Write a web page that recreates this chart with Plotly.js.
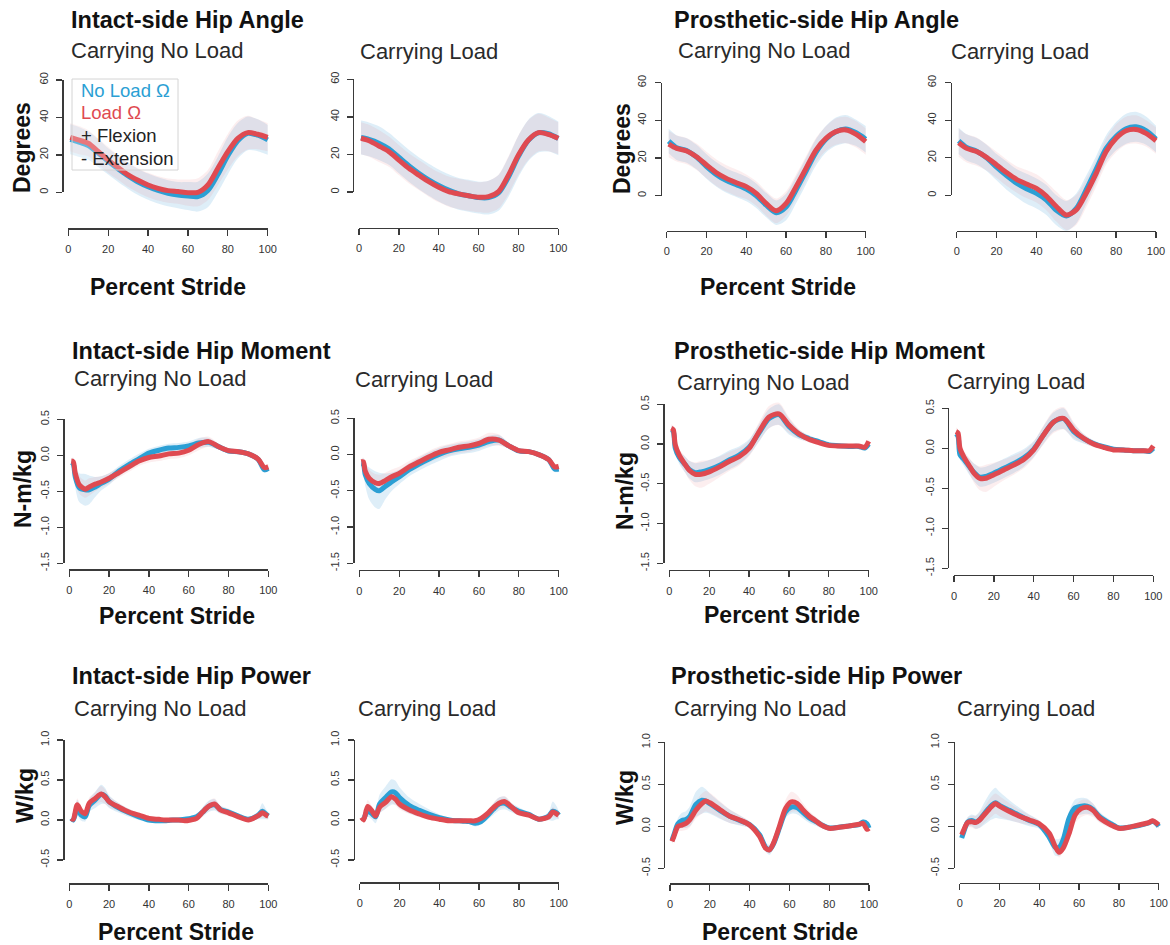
<!DOCTYPE html>
<html><head><meta charset="utf-8">
<script src="https://cdn.plot.ly/plotly-3.0.1.min.js"></script>
<style>html,body{margin:0;padding:0;background:#fff}#chart{width:1170px;height:945px}</style>
</head><body><div id="chart"></div>
<script>
// ---------- DATA ----------
const xAngle = [1,5,10,15,20,25,30,35,40,45,50,55,60,65,70,75,80,85,90,95,100];
const xMoment = [1,2,3,5,8,10,13,16,20,25,30,35,40,45,50,55,60,65,70,75,80,85,90,95,98,100];
const xPower = [1,2,4,6,8,10,13,16,18,20,25,30,35,40,45,48,50,52,55,58,61,64,67,70,73,76,80,85,90,95,97,99,100];

const angleTicks = [0,20,40,60];
const angleTickText = ['0','20','40','60'];
const momentTicks = [-1.5,-1,-0.5,0,0.5];
const momentTickText = ['-1.5','-1.0','-0.5','0.0','0.5'];
const powerTicks = [-0.5,0,0.5,1];
const powerTickText = ['-0.5','0.0','0.5','1.0'];
const strideTicks = [0,20,40,60,80,100];

const rowTitles = ['Intact-side Hip Angle','Prosthetic-side Hip Angle','Intact-side Hip Moment','Prosthetic-side Hip Moment','Intact-side Hip Power','Prosthetic-side Hip Power'];
const subTitles = ['Carrying No Load','Carrying Load','Carrying No Load','Carrying Load'];
const yTitles = ['Degrees','N-m/kg','W/kg'];
const xTitle = 'Percent Stride';
const legendLabels = ['No Load \u03A9','Load \u03A9','+ Flexion','- Extension'];

// Intact angle, no load
const angIntNoBlue = [28.3,27,25,21,16.5,12.5,8.8,5.5,3,1,-0.5,-1.5,-2,-2.3,1,9.5,19.5,27.5,31.5,30.5,28];
const angIntNoBlueSd = [8,8,7.5,7.5,7,7,7,7,7,7,7,7,7.5,8,9,9.5,10,9.5,9,8.5,8];
const angIntNoRed = [29.4,28,26.2,21.8,17.3,13.2,9.3,6.4,3.9,2.1,0.9,0.4,-0.2,0,3.9,12.8,21.7,28.8,31.9,31,29.4];
const angIntNoRedSd = [7.5,7.5,7,7,7,6.5,6.5,6.5,6.5,6.5,6.5,6.5,7,7.5,8,9,9.5,9.5,9,8,7.5];
// Intact angle, load
const angIntLdBlue = [29,28,26,23,18.5,14,10,6.5,3.5,1,-1,-2,-3,-3,-0.5,8,19,27.5,31.5,31,28.5];
const angIntLdBlueSd = [9,9,9,8.5,8.5,8.5,8.5,8.5,8.5,8.5,8.5,8.5,8.5,9,9.5,10.5,11,11,10.5,9.5,9];
const angIntLdRed = [28.6,27.3,24.5,21.5,17,12.6,9,5.5,2.5,0.2,-1,-2,-2.8,-2.5,0.2,9,19.7,27.7,31.6,30.7,28.6];
const angIntLdRedSd = [8.5,8.5,8.5,8,8,8,8,8,8,8,8,8,8,8.5,9,10,10.5,10.5,10,9,8.5];
// Prosthetic angle, no load
const angProNoBlue = [29,25.5,24,20.5,15.5,11.2,8,5.8,3.5,0,-5,-9,-6,3,13,23,30,34,35.4,33.5,30];
const angProNoBlueSd = [6.5,6.5,6.5,6.5,6.5,6.5,6.5,6.5,6.5,6.5,6.5,6.5,7,7,7,7,7,7.5,7.5,7,7];
const angProNoRed = [27.4,25.1,23.7,20.7,16.3,12.2,9.2,6.9,4.8,1.2,-4.1,-8,-4.1,4.8,14.5,24.2,30.4,34,34.9,32.7,28.7];
const angProNoRedSd = [7,7,7,7,7,7,7,7,6.5,6.5,6.5,6.5,6.5,6.5,6.5,6.5,6.5,7,7,7,7];
// Prosthetic angle, load
const angProLdBlue = [29,25.5,23.5,20,15,10.5,6.5,3.5,1,-2.5,-8,-11,-7,3,14,25,31.5,35.5,36.5,34.5,30];
const angProLdBlueSd = [7,7,7,7,7,7.5,7.5,8,8,8,8,8,8,7.5,7,7,7.5,8,8,7.5,7];
const angProLdRed = [28,25,23.3,20.2,16.2,12.1,8.5,6,3.7,-0.4,-6,-10.5,-7.8,1.1,11.7,23.3,30.4,34.4,35.1,33,29.1];
const angProLdRedSd = [7.5,7.5,7.5,7,7,7,7,7.5,7.5,7.5,8,8,8,7.5,7,7,7.5,7.5,7.5,7,7];

// Intact moment, no load
const momIntNoBlue = [-0.1,-0.12,-0.3,-0.45,-0.48,-0.48,-0.44,-0.39,-0.33,-0.22,-0.13,-0.05,0.03,0.07,0.1,0.11,0.13,0.17,0.18,0.12,0.06,0.05,0.02,-0.06,-0.2,-0.18];
const momIntNoBlueSd = [0.04,0.08,0.15,0.2,0.22,0.2,0.14,0.1,0.08,0.07,0.07,0.07,0.06,0.06,0.06,0.06,0.06,0.07,0.06,0.04,0.03,0.03,0.03,0.03,0.04,0.04];
const momIntNoRed = [-0.08,-0.09,-0.25,-0.41,-0.47,-0.44,-0.40,-0.37,-0.32,-0.24,-0.16,-0.08,-0.03,-0.01,0.02,0.03,0.07,0.15,0.19,0.12,0.065,0.05,0.02,-0.055,-0.17,-0.16];
const momIntNoRedSd = [0.04,0.06,0.1,0.12,0.12,0.12,0.1,0.08,0.07,0.07,0.07,0.07,0.07,0.07,0.07,0.07,0.07,0.08,0.07,0.04,0.03,0.03,0.03,0.03,0.04,0.04];
// Intact moment, load
const momIntLdBlue = [-0.12,-0.13,-0.28,-0.4,-0.48,-0.5,-0.44,-0.38,-0.31,-0.21,-0.13,-0.06,0,0.05,0.08,0.1,0.13,0.18,0.2,0.12,0.05,0.04,0,-0.07,-0.2,-0.2];
const momIntLdBlueSd = [0.04,0.08,0.15,0.22,0.25,0.25,0.18,0.13,0.1,0.09,0.09,0.09,0.09,0.08,0.08,0.08,0.08,0.08,0.07,0.04,0.03,0.03,0.03,0.03,0.04,0.04];
const momIntLdRed = [-0.1,-0.1,-0.23,-0.33,-0.39,-0.40,-0.36,-0.31,-0.26,-0.17,-0.1,-0.03,0.03,0.065,0.1,0.12,0.155,0.21,0.2,0.12,0.055,0.04,0,-0.07,-0.17,-0.165];
const momIntLdRedSd = [0.04,0.06,0.1,0.12,0.12,0.12,0.11,0.1,0.09,0.08,0.08,0.08,0.08,0.08,0.08,0.08,0.08,0.09,0.08,0.04,0.03,0.03,0.03,0.03,0.04,0.04];
// Prosthetic moment, no load
const momProNoBlue = [0.18,0.16,-0.05,-0.17,-0.26,-0.32,-0.36,-0.35,-0.32,-0.27,-0.2,-0.14,-0.04,0.14,0.32,0.37,0.22,0.12,0.07,0.03,-0.01,-0.02,-0.03,-0.03,-0.05,0];
const momProNoBlueSd = [0.05,0.05,0.06,0.08,0.1,0.11,0.12,0.12,0.12,0.12,0.12,0.11,0.1,0.11,0.12,0.13,0.1,0.06,0.04,0.03,0.03,0.02,0.02,0.02,0.03,0.03];
const momProNoRed = [0.2,0.18,-0.01,-0.14,-0.26,-0.33,-0.38,-0.38,-0.35,-0.29,-0.22,-0.16,-0.055,0.155,0.34,0.38,0.24,0.13,0.06,0.017,-0.017,-0.025,-0.025,-0.025,-0.04,0.035];
const momProNoRedSd = [0.05,0.05,0.06,0.08,0.1,0.12,0.15,0.17,0.15,0.13,0.12,0.11,0.1,0.12,0.14,0.14,0.1,0.06,0.04,0.03,0.03,0.02,0.02,0.02,0.03,0.03];
// Prosthetic moment, load
const momProLdBlue = [0.18,0.15,-0.08,-0.14,-0.24,-0.3,-0.36,-0.35,-0.31,-0.25,-0.19,-0.12,-0.01,0.17,0.33,0.37,0.21,0.12,0.06,0.02,-0.01,-0.02,-0.03,-0.03,-0.04,0];
const momProLdBlueSd = [0.05,0.05,0.06,0.08,0.1,0.11,0.12,0.12,0.12,0.12,0.12,0.11,0.1,0.11,0.12,0.13,0.1,0.06,0.04,0.03,0.03,0.02,0.02,0.02,0.03,0.03];
const momProLdRed = [0.21,0.19,0,-0.11,-0.23,-0.31,-0.375,-0.375,-0.33,-0.27,-0.21,-0.14,-0.02,0.17,0.33,0.375,0.23,0.125,0.054,0.0125,-0.02,-0.02,-0.03,-0.03,-0.03,0.03];
const momProLdRedSd = [0.05,0.05,0.06,0.08,0.1,0.12,0.15,0.17,0.15,0.13,0.12,0.11,0.1,0.12,0.14,0.14,0.1,0.06,0.04,0.03,0.03,0.02,0.02,0.02,0.03,0.03];

// Intact power, no load
const powIntNoBlue = [0.02,0,0.15,0.06,0.04,0.18,0.25,0.32,0.3,0.23,0.15,0.09,0.04,0,-0.01,-0.01,-0.005,0,0,0.01,0.02,0.04,0.1,0.17,0.19,0.13,0.1,0.05,0.01,0.06,0.11,0.07,0.05];
const powIntNoBlueSd = [0.02,0.04,0.1,0.07,0.06,0.08,0.1,0.12,0.1,0.08,0.06,0.05,0.04,0.03,0.03,0.02,0.02,0.02,0.02,0.02,0.03,0.04,0.06,0.07,0.07,0.05,0.04,0.03,0.03,0.05,0.1,0.06,0.04];
const powIntNoRed = [0.02,0.01,0.19,0.11,0.08,0.21,0.27,0.325,0.29,0.23,0.16,0.1,0.06,0.02,0.008,0,0,0,0,-0.01,0,0.02,0.1,0.17,0.2,0.125,0.09,0.04,0,0.055,0.09,0.06,0.05];
const powIntNoRedSd = [0.02,0.03,0.08,0.06,0.05,0.07,0.08,0.1,0.09,0.07,0.05,0.04,0.03,0.02,0.02,0.02,0.02,0.02,0.02,0.02,0.02,0.03,0.05,0.06,0.07,0.05,0.04,0.03,0.02,0.04,0.06,0.05,0.04];
// Intact power, load
const powIntLdBlue = [0.03,0.02,0.12,0.08,0.04,0.2,0.28,0.35,0.34,0.28,0.18,0.12,0.07,0.03,0,-0.01,-0.01,-0.015,-0.02,-0.04,-0.02,0.05,0.13,0.2,0.21,0.16,0.11,0.07,0.01,0.05,0.11,0.09,0.06];
const powIntLdBlueSd = [0.02,0.04,0.08,0.07,0.08,0.12,0.14,0.16,0.15,0.13,0.1,0.08,0.06,0.04,0.03,0.02,0.02,0.02,0.03,0.04,0.04,0.05,0.07,0.08,0.08,0.06,0.05,0.03,0.03,0.05,0.12,0.08,0.05];
const powIntLdRed = [0.03,0,0.17,0.12,0.05,0.16,0.22,0.29,0.26,0.2,0.125,0.075,0.033,0.01,-0.01,-0.01,-0.01,-0.01,-0.01,-0.01,0.02,0.075,0.15,0.21,0.23,0.17,0.09,0.06,0.01,0.04,0.1,0.075,0.06];
const powIntLdRedSd = [0.02,0.03,0.08,0.06,0.05,0.07,0.08,0.08,0.08,0.07,0.05,0.04,0.03,0.02,0.02,0.02,0.02,0.02,0.02,0.02,0.03,0.04,0.06,0.07,0.07,0.05,0.04,0.03,0.02,0.04,0.06,0.05,0.04];
// Prosthetic power, no load
const powProNoBlue = [-0.17,-0.1,0.03,0.07,0.08,0.12,0.26,0.31,0.3,0.27,0.19,0.12,0.07,0.02,-0.1,-0.25,-0.28,-0.21,-0.02,0.17,0.23,0.22,0.16,0.1,0.06,0.02,-0.02,-0.01,0.005,0.02,0.05,0.03,-0.02];
const powProNoBlueSd = [0.03,0.04,0.07,0.09,0.1,0.12,0.15,0.16,0.14,0.12,0.1,0.08,0.06,0.04,0.04,0.05,0.06,0.05,0.05,0.07,0.08,0.08,0.07,0.06,0.05,0.04,0.03,0.02,0.02,0.02,0.03,0.03,0.03];
const powProNoRed = [-0.18,-0.12,0,0.015,0.035,0.08,0.19,0.27,0.3,0.28,0.2,0.12,0.075,0.016,-0.12,-0.26,-0.28,-0.2,0,0.21,0.29,0.27,0.19,0.12,0.07,0.016,-0.024,-0.012,0.004,0.024,0.035,-0.036,-0.024];
const powProNoRedSd = [0.03,0.04,0.06,0.07,0.08,0.09,0.1,0.12,0.12,0.12,0.1,0.08,0.06,0.04,0.04,0.04,0.04,0.04,0.06,0.1,0.12,0.1,0.08,0.06,0.05,0.04,0.03,0.02,0.02,0.02,0.03,0.03,0.03];
// Prosthetic power, load
const powProLdBlue = [-0.14,-0.07,0.05,0.07,0.05,0.08,0.17,0.25,0.28,0.25,0.19,0.13,0.07,0.02,-0.13,-0.25,-0.25,-0.16,0.1,0.22,0.24,0.24,0.2,0.12,0.07,0.03,-0.02,-0.01,0.01,0.04,0.06,0.03,0];
const powProLdBlueSd = [0.03,0.04,0.06,0.07,0.08,0.1,0.14,0.17,0.18,0.16,0.12,0.09,0.07,0.05,0.06,0.1,0.1,0.08,0.08,0.1,0.1,0.09,0.07,0.06,0.05,0.04,0.03,0.02,0.02,0.02,0.03,0.03,0.03];
const powProLdRed = [-0.1,-0.045,0.044,0.055,0.044,0.075,0.155,0.234,0.27,0.24,0.175,0.12,0.075,0.028,-0.083,-0.24,-0.31,-0.26,-0.083,0.135,0.21,0.226,0.19,0.107,0.056,0.016,-0.024,-0.012,0.016,0.044,0.067,0.036,0.016];
const powProLdRedSd = [0.03,0.04,0.06,0.07,0.08,0.09,0.1,0.12,0.12,0.12,0.1,0.08,0.06,0.04,0.05,0.06,0.06,0.05,0.06,0.1,0.1,0.09,0.08,0.06,0.05,0.04,0.03,0.02,0.02,0.02,0.03,0.03,0.03];

// ---------- PANELS (order: row-major, 4 columns) ----------
const panelData = [
  {x:xAngle, b:angIntNoBlue, bs:angIntNoBlueSd, r:angIntNoRed, rs:angIntNoRedSd, t:angleTicks, tt:angleTickText},
  {x:xAngle, b:angIntLdBlue, bs:angIntLdBlueSd, r:angIntLdRed, rs:angIntLdRedSd, t:angleTicks, tt:angleTickText},
  {x:xAngle, b:angProNoBlue, bs:angProNoBlueSd, r:angProNoRed, rs:angProNoRedSd, t:angleTicks, tt:angleTickText},
  {x:xAngle, b:angProLdBlue, bs:angProLdBlueSd, r:angProLdRed, rs:angProLdRedSd, t:angleTicks, tt:angleTickText},
  {x:xMoment, b:momIntNoBlue, bs:momIntNoBlueSd, r:momIntNoRed, rs:momIntNoRedSd, t:momentTicks, tt:momentTickText},
  {x:xMoment, b:momIntLdBlue, bs:momIntLdBlueSd, r:momIntLdRed, rs:momIntLdRedSd, t:momentTicks, tt:momentTickText},
  {x:xMoment, b:momProNoBlue, bs:momProNoBlueSd, r:momProNoRed, rs:momProNoRedSd, t:momentTicks, tt:momentTickText},
  {x:xMoment, b:momProLdBlue, bs:momProLdBlueSd, r:momProLdRed, rs:momProLdRedSd, t:momentTicks, tt:momentTickText},
  {x:xPower, b:powIntNoBlue, bs:powIntNoBlueSd, r:powIntNoRed, rs:powIntNoRedSd, t:powerTicks, tt:powerTickText},
  {x:xPower, b:powIntLdBlue, bs:powIntLdBlueSd, r:powIntLdRed, rs:powIntLdRedSd, t:powerTicks, tt:powerTickText},
  {x:xPower, b:powProNoBlue, bs:powProNoBlueSd, r:powProNoRed, rs:powProNoRedSd, t:powerTicks, tt:powerTickText},
  {x:xPower, b:powProLdBlue, bs:powProLdBlueSd, r:powProLdRed, rs:powProLdRedSd, t:powerTicks, tt:powerTickText}
];

// frame geometry in pixels: x of tick 0 / tick 100, y of lowest / highest y tick, y of x-axis line
const frames = [
  {p0:68.3,p100:267.7,yLo:192.3,yHi:80,xAx:228.3},
  {p0:359,p100:558.3,yLo:192,yHi:79.3,xAx:227.7},
  {p0:666.7,p100:865.7,yLo:195.7,yHi:82.7,xAx:230.7},
  {p0:956.7,p100:1156,yLo:195.3,yHi:82.7,xAx:230.7},
  {p0:69.3,p100:268.3,yLo:563.3,yHi:419.3,xAx:569.3},
  {p0:359.3,p100:558.7,yLo:563.3,yHi:418.3,xAx:570},
  {p0:669.3,p100:868.7,yLo:563.3,yHi:404.3,xAx:570},
  {p0:954,p100:1153.3,yLo:568.3,yHi:408.3,xAx:575},
  {p0:69.3,p100:268.3,yLo:860,yHi:740,xAx:883.3},
  {p0:359.7,p100:558.7,yLo:860,yHi:740,xAx:882.3},
  {p0:670,p100:869,yLo:868.3,yHi:742.3,xAx:883.3},
  {p0:959.7,p100:1158.7,yLo:868.3,yHi:742.3,xAx:882.7}
];

const W = 1170, H = 945;
const fx = px => px / W;
const fy = py => 1 - py / H;
const FONT = 'Liberation Sans, Arial, Helvetica, sans-serif';
const BLUE = '#2b9fd4', RED = '#df4a51';
const BLUE_BAND = 'rgba(90,170,220,0.20)', RED_BAND = 'rgba(230,120,130,0.13)';

const traces = [];
const layout = {
  width: W, height: H, margin: {l:0,r:0,t:0,b:0,pad:0},
  paper_bgcolor: '#fff', plot_bgcolor: 'rgba(0,0,0,0)',
  showlegend: false, annotations: [], shapes: []
};

panelData.forEach((d, i) => {
  const f = frames[i];
  const n = i + 1, m = i + 13;
  const s = (f.p100 - f.p0) / 100;
  const yAxisPx = f.p0 - 2.96 * s;
  const xRightPx = f.p100 + 3.96 * s;
  const vLo = d.t[0], vHi = d.t[d.t.length - 1];
  const sc = (f.yLo - f.yHi) / (vHi - vLo);
  const topPx = f.yHi - 0.04 * (f.yLo - f.yHi) - 4;
  const rLo = vLo - (f.xAx - f.yLo) / sc;
  const rHi = vHi + (f.yHi - topPx) / sc;
  const xa = 'x' + n, ya = 'y' + n;

  layout['xaxis' + n] = {domain:[fx(yAxisPx), fx(xRightPx)], range:[-2.96, 103.96], visible:false, anchor:ya, fixedrange:true};
  layout['yaxis' + n] = {domain:[fy(f.xAx), fy(topPx)], range:[rLo, rHi], visible:false, anchor:xa, fixedrange:true};

  const band = (mean, sd, col) => {
    const lo = mean.map((v, k) => v - sd[k]);
    const hi = mean.map((v, k) => v + sd[k]);
    traces.push({x:d.x, y:lo, xaxis:xa, yaxis:ya, mode:'lines', line:{width:0, shape:'spline', smoothing:0.8}, hoverinfo:'skip'});
    traces.push({x:d.x, y:hi, xaxis:xa, yaxis:ya, mode:'lines', fill:'tonexty', fillcolor:col, line:{width:0, shape:'spline', smoothing:0.8}, hoverinfo:'skip'});
  };
  band(d.b, d.bs, BLUE_BAND);
  band(d.r, d.rs, RED_BAND);
  traces.push({x:d.x, y:d.b, xaxis:xa, yaxis:ya, mode:'lines', line:{color:BLUE, width:5, shape:'spline', smoothing:0.8}});
  traces.push({x:d.x, y:d.r, xaxis:xa, yaxis:ya, mode:'lines', line:{color:RED, width:5, shape:'spline', smoothing:0.8}});

  // decoration (R-style detached) axes
  const common = {showline:true, linecolor:'#3a3a3a', linewidth:1.3, ticks:'outside', ticklen:6, tickwidth:1.3, tickcolor:'#3a3a3a',
    showgrid:false, zeroline:false, fixedrange:true, tickfont:{family:FONT, size:11, color:'#333'}};
  layout['xaxis' + m] = Object.assign({}, common, {domain:[fx(f.p0), fx(f.p100)], range:[0,100], anchor:'free', position:fy(f.xAx),
    tickmode:'array', tickvals:strideTicks, ticktext:strideTicks.map(String), ticklabelstandoff:4});
  layout['yaxis' + m] = Object.assign({}, common, {domain:[fy(f.yLo), fy(f.yHi)], range:[vLo, vHi], anchor:'free', position:fx(yAxisPx),
    tickmode:'array', tickvals:d.t, ticktext:d.tt, tickangle:-90, ticklabelstandoff:4});
  traces.push({x:[], y:[], xaxis:'x' + m, yaxis:'y' + m, mode:'markers', hoverinfo:'skip'});
});

// ---------- TEXT ----------
const ann = (text, px, py, size, opts) => layout.annotations.push(Object.assign({
  text, x:fx(px), y:fy(py), xref:'paper', yref:'paper', xanchor:'left', yanchor:'middle', showarrow:false,
  font:{family:FONT, size, color:'#111'}
}, opts || {}));

const titlePos = [[69,20],[672,20],[70,351],[672,351],[70,676],[669,676]];
rowTitles.forEach((t, k) => ann('<b>' + t + '</b>', titlePos[k][0], titlePos[k][1], 23.5));

const subPos = [[69,50],[358,52],[676,50],[949,52],[72,378],[353,379],[675,382],[945,381],[72,708],[356,708],[672,708],[955,708]];
subPos.forEach((p, k) => ann(subTitles[k % 4], p[0], p[1], 22, {font:{family:FONT, size:22, color:'#2a2a2a'}}));

const xtPos = [[168,287],[778,287],[177,616],[782,615],[176,932],[780,932]];
xtPos.forEach(p => ann('<b>' + xTitle + '</b>', p[0], p[1], 23, {xanchor:'center'}));

const ytPos = [[22,148],[622,149],[23,489],[625,491],[25,796],[625,798]];
ytPos.forEach((p, k) => ann('<b>' + yTitles[Math.floor(k / 2)] + '</b>', p[0], p[1], 23, {xanchor:'center', textangle:-90}));

// legend box in first panel
layout.shapes.push({type:'rect', xref:'paper', yref:'paper', x0:fx(72), x1:fx(178), y0:fy(170), y1:fy(79),
  line:{color:'#d4d4d4', width:1}, fillcolor:'rgba(255,255,255,0.25)', layer:'above'});
const legCols = [BLUE, RED, '#222', '#222'];
const legY = [90, 113, 136, 158];
legendLabels.forEach((t, k) => ann(t, 79, legY[k], 18.5, {font:{family:FONT, size:18.5, color:legCols[k]}}));

Plotly.newPlot('chart', traces, layout, {staticPlot:true, displayModeBar:false});
</script>
</body></html>
